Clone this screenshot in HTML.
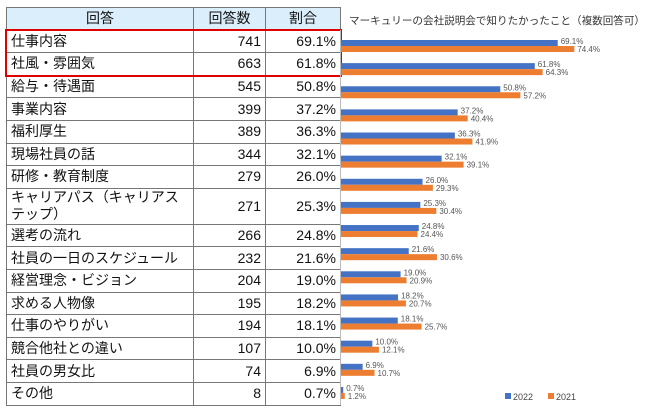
<!DOCTYPE html>
<html><head><meta charset="utf-8">
<style>
body{margin:0;width:650px;height:412px;background:#fff;font-family:"Liberation Sans","Noto Sans CJK JP",sans-serif;position:relative;overflow:hidden}
table{position:absolute;left:6px;top:7px;border-collapse:collapse;font-size:14px;color:#111}
td,th{border:1px solid #777;padding:0 4px;height:21.6px;line-height:17px}
th{background:#dbeefb;font-weight:normal;text-align:center;height:21.6px}
td.n{text-align:right}
#redbox{position:absolute;left:5px;top:29px;width:333px;height:44px;border:2px solid #e00000}
svg{position:absolute;left:0;top:0}
</style></head><body>
<table>
<colgroup><col style="width:187px"><col style="width:72px"><col style="width:75px"></colgroup>
<tr><th>回答</th><th>回答数</th><th>割合</th></tr>
<tr><td>仕事内容</td><td class="n">741</td><td class="n">69.1%</td></tr>
<tr><td>社風・雰囲気</td><td class="n">663</td><td class="n">61.8%</td></tr>
<tr><td>給与・待遇面</td><td class="n">545</td><td class="n">50.8%</td></tr>
<tr><td>事業内容</td><td class="n">399</td><td class="n">37.2%</td></tr>
<tr><td>福利厚生</td><td class="n">389</td><td class="n">36.3%</td></tr>
<tr><td>現場社員の話</td><td class="n">344</td><td class="n">32.1%</td></tr>
<tr><td>研修・教育制度</td><td class="n">279</td><td class="n">26.0%</td></tr>
<tr><td style="height:35px">キャリアパス（キャリアス<br>テップ）</td><td class="n">271</td><td class="n">25.3%</td></tr>
<tr><td>選考の流れ</td><td class="n">266</td><td class="n">24.8%</td></tr>
<tr><td>社員の一日のスケジュール</td><td class="n">232</td><td class="n">21.6%</td></tr>
<tr><td>経営理念・ビジョン</td><td class="n">204</td><td class="n">19.0%</td></tr>
<tr><td>求める人物像</td><td class="n">195</td><td class="n">18.2%</td></tr>
<tr><td>仕事のやりがい</td><td class="n">194</td><td class="n">18.1%</td></tr>
<tr><td>競合他社との違い</td><td class="n">107</td><td class="n">10.0%</td></tr>
<tr><td>社員の男女比</td><td class="n">74</td><td class="n">6.9%</td></tr>
<tr><td>その他</td><td class="n">8</td><td class="n">0.7%</td></tr>
</table>
<div id="redbox"></div>
<svg id="chart" width="650" height="412">
<line x1="340.5" y1="30" x2="340.5" y2="405" stroke="#bbb"/>
<text x="349" y="24" font-size="10.5" fill="#333" textLength="296" lengthAdjust="spacingAndGlyphs">マーキュリーの会社説明会で知りたかったこと（複数回答可）</text>
<rect x="505" y="393" width="6" height="6" fill="#4472c4"/>
<text x="513" y="400" font-size="9" fill="#444">2022</text>
<rect x="548" y="393" width="6" height="6" fill="#ed7d31"/>
<text x="556" y="400" font-size="9" fill="#444">2021</text>
</svg>
<script>
const categories=["仕事内容","社風・雰囲気","給与・待遇面","事業内容","福利厚生","現場社員の話","研修・教育制度","キャリアパス","選考の流れ","社員の一日のスケジュール","経営理念・ビジョン","求める人物像","仕事のやりがい","競合他社との違い","社員の男女比","その他"];
const values2022=[69.1,61.8,50.8,37.2,36.3,32.1,26.0,25.3,24.8,21.6,19.0,18.2,18.1,10.0,6.9,0.7];
const values2021=[74.4,64.3,57.2,40.4,41.9,39.1,29.3,30.4,24.4,30.6,20.9,20.7,25.7,12.1,10.7,1.2];
const svg=document.getElementById('chart');
const NS='http://www.w3.org/2000/svg';
const x0=340,scale=3.136;
function xPos(v){return x0+v*scale;}
function yPos(i){return 40+i*23.13;}
function mk(tag,attrs){const e=document.createElementNS(NS,tag);for(const k in attrs)e.setAttribute(k,attrs[k]);svg.appendChild(e);return e;}
categories.forEach((c,i)=>{
  const y=yPos(i);
  const b=mk('rect',{x:x0+1,y:y,width:xPos(values2022[i])-x0,height:6,fill:'#4472c4'});
  
  
  const o=mk('rect',{x:x0+1,y:y+6,width:xPos(values2021[i])-x0,height:6,fill:'#ed7d31'});
  
  
  const t1=mk('text',{x:xPos(values2022[i])+4,y:y+4,'font-size':8,fill:'#555'});
  t1.textContent=values2022[i].toFixed(1)+'%';
  
  
  const t2=mk('text',{x:xPos(values2021[i])+4,y:y+12,'font-size':8,fill:'#555'});
  t2.textContent=values2021[i].toFixed(1)+'%';
  
  
});
</script>
</body></html>
